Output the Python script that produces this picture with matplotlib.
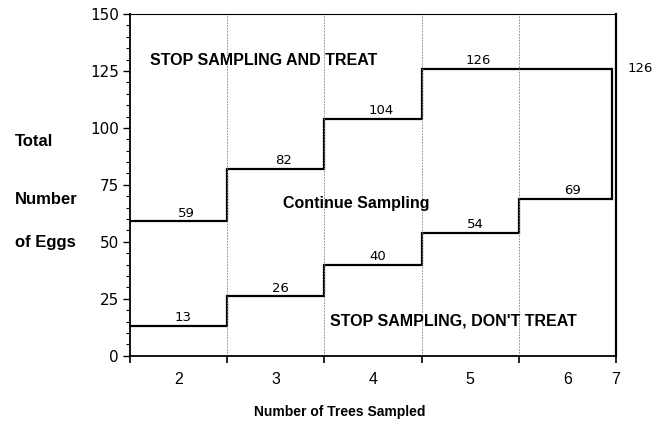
import matplotlib
matplotlib.use("Agg")
import matplotlib.pyplot as plt
import numpy as np

plt.rcParams['font.family'] = ['Liberation Sans', 'DejaVu Sans']

# --- data ---------------------------------------------------------------------
trees = [2, 3, 4, 5, 6]
upper = [59, 82, 104, 126, 126]     # stop sampling and treat boundary
lower = [13, 26, 40, 54, 69]        # stop sampling, don't treat boundary
upper_labels = ["59", "82", "104", "126", ""]
lower_labels = ["13", "26", "40", "54", "69"]
last_tree = 7
last_value = 126
y_ticks = [0, 25, 50, 75, 100, 125, 150]

# --- figure -------------------------------------------------------------------
fig = plt.figure(figsize=(6.66, 4.26), dpi=100)
ax = fig.add_axes([0.195, 0.165, 0.73, 0.802])

edges = [t - 0.5 for t in trees] + [trees[-1] + 0.46]
ax.stairs(upper, edges, color="black", linewidth=1.6, baseline=None)
ax.stairs(lower, edges, color="black", linewidth=1.6, baseline=None)
ax.plot([edges[-1], edges[-1]], [lower[-1], upper[-1]], color="black", linewidth=1.6)

num_font = dict(family="DejaVu Sans", fontsize=9.5)
for t, u, l, ul, ll in zip(trees, upper, lower, upper_labels, lower_labels):
    ax.text(t + 0.08, u + 0.8, ul, ha="center", va="bottom", **num_font)
    ax.text(t + 0.05, l + 0.8, ll, ha="center", va="bottom", **num_font)
ax.text(6.62, last_value, str(last_value), ha="left", va="center",
        clip_on=False, **num_font)

# vertical separators between tree counts
for t in trees[1:]:
    ax.axvline(t - 0.5, color="gray", linewidth=0.6, linestyle=(0, (2, 1.5)))

ax.text(1.71, 129.5, "STOP SAMPLING AND TREAT", fontsize=11.5, fontweight="bold",
        va="center")
ax.text(3.83, 67, "Continue Sampling", fontsize=11.5, fontweight="bold",
        ha="center", va="center")
ax.text(3.56, 15.4, "STOP SAMPLING, DON'T TREAT", fontsize=11.5, fontweight="bold",
        va="center")

ax.set_xlim(1.5, 6.5)
ax.set_ylim(0, 150)

ax.set_yticks(y_ticks)
ax.set_yticks(np.arange(0, 151, 5), minor=True)
ax.set_yticklabels([str(v) for v in y_ticks], family="DejaVu Sans")
ax.tick_params(axis="y", which="major", length=5, width=1, labelsize=11, pad=3)
ax.tick_params(axis="y", which="minor", length=3, width=0.8)

bounds = [t - 0.5 for t in trees] + [last_tree - 0.5]
ax.set_xticks(bounds)
ax.set_xticklabels([""] * len(trees) + [str(last_tree)])
ax.set_xticks(trees, minor=True)
ax.set_xticklabels([str(t) for t in trees], minor=True)
ax.tick_params(axis="x", which="major", length=5, width=1.2, labelsize=11.5, pad=7)
ax.tick_params(axis="x", which="minor", length=0, labelsize=11.5, pad=12)

for side in ["left", "bottom"]:
    ax.spines[side].set_linewidth(1.3)
ax.spines["right"].set_linewidth(1.6)
ax.spines["top"].set_linewidth(0.8)

# axis titles placed as in the original layout
fig.text(340 / 666, 1 - 412 / 426, "Number of Trees Sampled", fontsize=10,
         fontweight="bold", ha="center", va="center")
for label, yy in [("Total", 142), ("Number", 200), ("of Eggs", 243)]:
    fig.text(15 / 666, 1 - yy / 426, label, fontsize=12, fontweight="bold",
             ha="left", va="center")

fig.savefig("out.png", dpi=100)
